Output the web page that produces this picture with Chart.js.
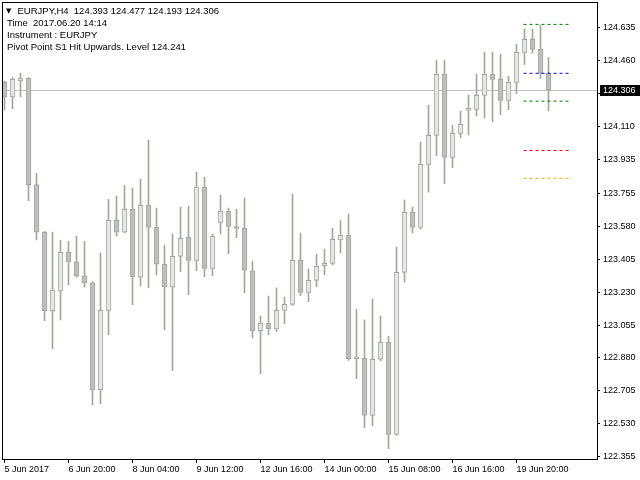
<!DOCTYPE html>
<html>
<head>
<meta charset="utf-8">
<script src="https://cdn.jsdelivr.net/npm/chart.js@4"></script>
<style>
  html, body { margin: 0; padding: 0; background: #fff; }
</style>
</head>
<body>
<canvas id="grafico" width="640" height="480"></canvas>
<script>
// Velas H4 de EURJPY
const aperturas = [124.345, 124.268, 124.353, 124.366, 123.801, 123.548, 123.131, 123.237, 123.441, 123.391,
  123.317, 123.280, 122.711, 123.133, 123.611, 123.548, 123.670, 123.310, 123.691, 123.574,
  123.378, 123.258, 123.420, 123.521, 123.399, 123.788, 123.356, 123.601, 123.659, 123.574,
  123.570, 123.343, 123.025, 123.064, 123.035, 123.133, 123.165, 123.399, 123.229, 123.292,
  123.370, 123.383, 123.507, 123.532, 122.876, 122.878, 122.575, 122.873, 122.963, 122.474,
  123.335, 123.654, 123.574, 123.909, 124.063, 124.387, 123.946, 124.074, 124.196, 124.201,
  124.276, 124.387, 124.361, 124.249, 124.345, 124.504, 124.573, 124.520, 124.393];
const maximos = [124.352, 124.371, 124.393, 124.370, 123.861, 123.553, 123.549, 123.505, 123.500, 123.528,
  123.500, 123.285, 123.438, 123.723, 123.741, 123.797, 123.783, 123.831, 124.038, 123.677,
  123.480, 123.539, 123.682, 123.687, 123.868, 123.841, 123.539, 123.746, 123.677, 123.671,
  123.730, 123.395, 123.103, 123.209, 123.252, 123.204, 123.751, 123.544, 123.353, 123.432,
  123.459, 123.569, 123.611, 123.645, 123.138, 123.082, 123.193, 123.103, 122.996, 123.469,
  123.719, 123.682, 124.028, 124.224, 124.463, 124.463, 124.116, 124.192, 124.277, 124.389,
  124.506, 124.506, 124.495, 124.377, 124.548, 124.628, 124.628, 124.649, 124.477];
const minimos = [124.198, 124.204, 124.268, 123.716, 123.507, 123.078, 122.929, 123.082, 123.269, 123.310,
  123.257, 122.631, 122.637, 123.003, 123.528, 123.545, 123.163, 123.262, 123.253, 123.321,
  123.030, 122.812, 123.338, 123.216, 123.344, 123.312, 123.317, 123.540, 123.434, 123.519,
  123.227, 122.987, 122.796, 123.003, 123.019, 123.062, 123.160, 123.211, 123.179, 123.258,
  123.322, 123.375, 123.439, 122.867, 122.770, 122.509, 122.520, 122.865, 122.398, 122.469,
  123.283, 123.545, 123.565, 123.762, 123.955, 123.806, 123.891, 124.050, 124.065, 124.166,
  124.155, 124.135, 124.173, 124.199, 124.286, 124.440, 124.499, 124.366, 124.193];
const cierres = [124.268, 124.361, 124.366, 123.801, 123.548, 123.131, 123.241, 123.441, 123.391, 123.317,
  123.280, 122.711, 123.133, 123.611, 123.548, 123.670, 123.312, 123.691, 123.574, 123.378,
  123.258, 123.420, 123.516, 123.399, 123.788, 123.356, 123.526, 123.659, 123.579, 123.568,
  123.346, 123.025, 123.064, 123.035, 123.133, 123.165, 123.399, 123.229, 123.292, 123.367,
  123.383, 123.510, 123.532, 122.876, 122.878, 122.575, 122.873, 122.963, 122.474, 123.335,
  123.654, 123.574, 123.909, 124.063, 124.387, 123.946, 124.074, 124.122, 124.201, 124.276,
  124.387, 124.361, 124.249, 124.345, 124.504, 124.573, 124.520, 124.393, 124.306];

// Etiquetas del eje X (cada 8 velas) y del eje Y
const etiquetasX = ['5 Jun 2017', '6 Jun 20:00', '8 Jun 04:00', '9 Jun 12:00', '12 Jun 16:00',
  '14 Jun 00:00', '15 Jun 08:00', '16 Jun 16:00', '19 Jun 20:00'];
const velasEtiquetasX = [0, 8, 16, 24, 32, 40, 48, 56, 64];
const ticksY = [122.355, 122.530, 122.705, 122.880, 123.055, 123.230, 123.405, 123.580,
  123.755, 123.935, 124.110, 124.285, 124.460, 124.635];

// Niveles del pivote (líneas discontinuas a la derecha)
const niveles = [124.653, 124.393, 124.245, 123.983, 123.835];
const coloresNiveles = ['#008000', '#0000cd', '#008000', '#ff0000', '#ffa500'];
const nivelDesde = 64.875, nivelHasta = 70.5;

const precioActual = 124.306;
const cabecera = 'EURJPY,H4  124.393 124.477 124.193 124.306';
const comentarios = ['Time  2017.06.20 14:14', 'Instrument : EURJPY', 'Pivot Point S1 Hit Upwards. Level 124.241'];

// Colores estilo MT4
const colorAlcista = '#e4e5e4';
const colorBajista = '#bdbebd';
const colorBorde = '#a0a8a0';
const fuente = '"Liberation Sans", Arial, sans-serif';

const velas = aperturas.map((o, i) => i);

const mechas = velas.map(i => ({ x: i, y: [minimos[i], maximos[i]] }));
const cuerpos = velas.map(i => ({ x: i, y: [aperturas[i], cierres[i]] }));
const coloresCuerpo = velas.map(i => cierres[i] >= aperturas[i] ? colorAlcista : colorBajista);

const lineasNivel = niveles.map((v, k) => ({
  type: 'line',
  data: [{ x: nivelDesde, y: v }, { x: nivelHasta, y: v }],
  borderColor: coloresNiveles[k],
  borderWidth: 1,
  borderDash: [3, 3],
  pointRadius: 0,
  fill: false,
  order: 0
}));

// Marco, línea de precio, etiqueta de precio y textos
const extras = {
  id: 'extras',
  beforeDatasetsDraw(chart) {
    const { ctx, chartArea: a, scales } = chart;
    const y = Math.round(scales.y.getPixelForValue(precioActual)) + 0.5;
    ctx.save();
    ctx.strokeStyle = '#c0c0c0';
    ctx.lineWidth = 1;
    ctx.beginPath();
    ctx.moveTo(a.left, y);
    ctx.lineTo(a.right, y);
    ctx.stroke();
    ctx.restore();
  },
  afterDraw(chart) {
    const { ctx, chartArea: a, scales } = chart;
    ctx.save();
    // marco
    ctx.strokeStyle = '#000';
    ctx.lineWidth = 1;
    ctx.strokeRect(a.left + 0.5, a.top + 0.5, a.right - a.left, a.bottom - a.top);
    // etiqueta del precio actual
    const y = Math.round(scales.y.getPixelForValue(precioActual));
    ctx.fillStyle = '#000';
    ctx.fillRect(600, y - 5, 40, 11);
    ctx.fillStyle = '#fff';
    ctx.font = '9px ' + fuente;
    ctx.textBaseline = 'middle';
    ctx.fillText(precioActual.toFixed(3), 603, y + 0.5);
    // textos de la esquina
    ctx.fillStyle = '#000';
    ctx.font = '7px "DejaVu Sans"';
    ctx.fillText('▼', 6, 11);
    ctx.font = '9.5px ' + fuente;
    ctx.fillText(cabecera, 17.5, 11);
    comentarios.forEach((t, k) => ctx.fillText(t, 7, 23.5 + k * 12));
    ctx.restore();
  }
};

const ctx = document.getElementById('grafico').getContext('2d');

new Chart(ctx, {
  type: 'bar',
  data: {
    datasets: [
      {
        data: mechas,
        backgroundColor: colorBorde,
        borderWidth: 0,
        barThickness: 1,
        grouped: false,
        order: 2
      },
      {
        data: cuerpos,
        backgroundColor: coloresCuerpo,
        borderColor: colorBorde,
        borderWidth: 1,
        borderSkipped: false,
        barThickness: 5,
        minBarLength: 2,
        grouped: false,
        order: 1
      },
      ...lineasNivel
    ]
  },
  options: {
    responsive: false,
    animation: false,
    devicePixelRatio: 1,
    layout: { padding: { left: 2, top: 2, right: 0, bottom: 0 } },
    plugins: { legend: { display: false }, tooltip: { enabled: false } },
    scales: {
      x: {
        type: 'linear',
        min: -0.3125,
        max: 74.0625,
        offset: false,
        afterBuildTicks: eje => { eje.ticks = velasEtiquetasX.map(v => ({ value: v })); },
        afterFit: eje => { eje.height = 21; eje.paddingLeft = 0; eje.paddingRight = 0; },
        grid: { drawOnChartArea: false, tickLength: 4, color: '#000', offset: false },
        border: { color: '#000' },
        ticks: {
          align: 'start',
          maxRotation: 0,
          autoSkip: false,
          padding: 1,
          color: '#000',
          font: { family: fuente, size: 9 },
          callback: (v, i) => etiquetasX[i]
        }
      },
      y: {
        position: 'right',
        min: 122.343,
        max: 124.772,
        afterBuildTicks: eje => { eje.ticks = ticksY.map(v => ({ value: v })); },
        afterFit: eje => { eje.width = 43; eje.paddingTop = 0; eje.paddingBottom = 0; },
        grid: { drawOnChartArea: false, tickLength: 3, color: '#000' },
        border: { color: '#000' },
        ticks: {
          padding: 3,
          color: '#000',
          font: { family: fuente, size: 9 },
          callback: v => v.toFixed(3)
        }
      }
    }
  },
  plugins: [extras]
});
</script>
</body>
</html>
